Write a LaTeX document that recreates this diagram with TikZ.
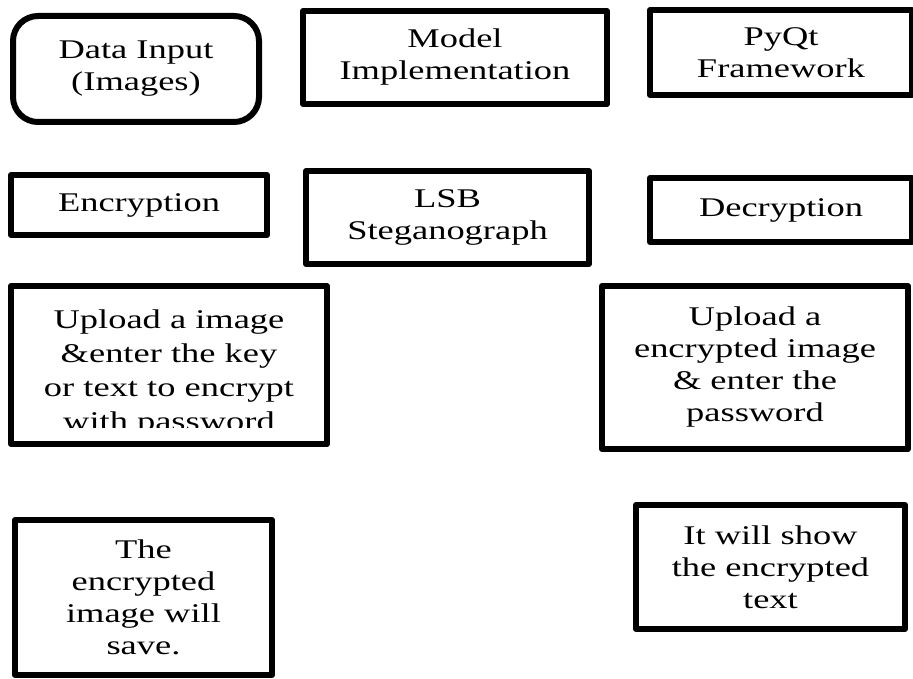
\documentclass[tikz,border=0pt]{standalone}
\usepackage{fontspec}
\setmainfont{Liberation Serif}[FakeStretch=1.35]
\usepackage{tikz}
\usetikzlibrary{positioning}

\begin{document}
\begin{tikzpicture}[x=1pt,y=-1pt,
  every node/.style={font=\fontsize{27}{32}\selectfont,align=center,inner sep=0pt},
  box/.style={draw,line width=6pt,line join=round},
  plain/.style={inner sep=0pt}]
\useasboundingbox (0,0) rectangle (913,679);

% top row
\node[box,rounded corners=25pt,minimum width=246pt,minimum height=106pt] (datain) at (136,69) {Data Input\\(Images)};
\node[box,minimum width=304pt,minimum height=93pt] (model) at (455,57.5) {Model\\Implementation};
\node[box,minimum width=262pt,minimum height=85pt] (pyqt) at (781,52.5) {PyQt\\Framework};

\node[box,minimum width=256pt,minimum height=60pt] (encrypt) at (139,205) {Encryption};
\node[box,minimum width=283pt,minimum height=93pt] (lsb) at (447.5,217.5) {LSB\\Steganograph};
\node[box,minimum width=262pt,minimum height=64pt] (decrypt) at (781,210) {Decryption};

\node[box,minimum width=316pt,minimum height=158pt] (uploadenc) at (169,365) {};
\begin{scope}
  \clip (0,280) rectangle (913,427);
  \node[plain,font=\fontsize{27}{34}\selectfont] (uploadenctext) at (169,373) {Upload a image\\\&enter the key\\or text to encrypt\\with password};
\end{scope}
\node[box,minimum width=306pt,minimum height=163pt] (uploaddec) at (755,367.5) {Upload a\\encrypted image\\\& enter the\\password};

\node[box,minimum width=257pt,minimum height=155pt] (saved) at (143.5,597.5) {The\\encrypted\\image will\\save.};
\node[box,minimum width=269pt,minimum height=124pt] (showtext) at (770.5,567) {It will show\\the encrypted\\text};
\end{tikzpicture}
\end{document}
